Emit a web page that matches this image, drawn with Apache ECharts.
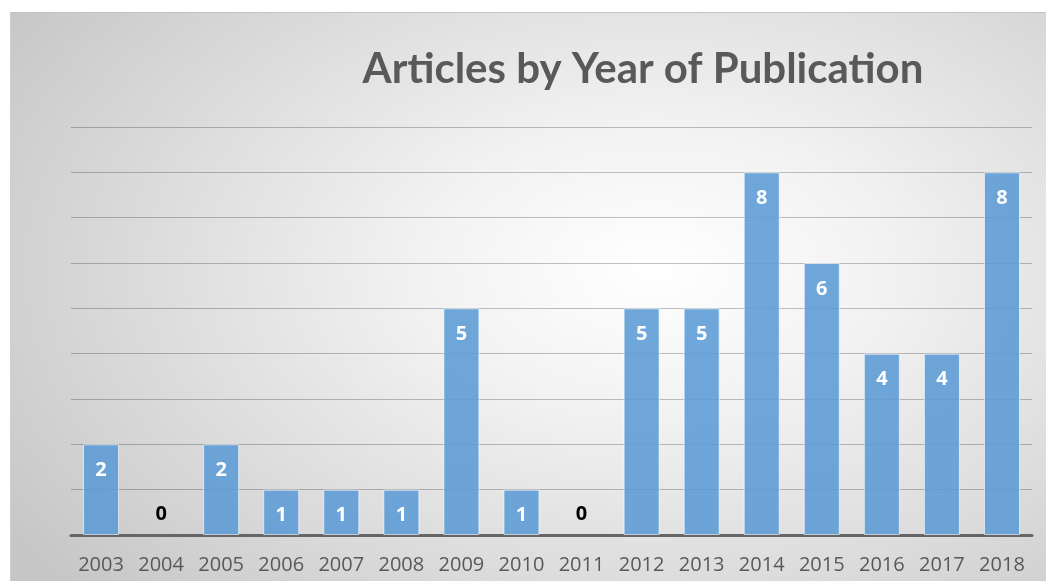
<!DOCTYPE html>
<html>
<head>
<meta charset="utf-8">
<script src="https://cdn.jsdelivr.net/npm/echarts@6/dist/echarts.min.js"></script>
<style>
  html, body { margin: 0; padding: 0; background: #fff; }
  #main {
    position: absolute; left: 10px; top: 12px;
    width: 1036px; height: 569px;
    border-top: 1px solid #c4c4c4; border-left: 1px solid #cfcfcf;
    background: radial-gradient(ellipse 75% 85% at 62% 45%, #ffffff 0%, #f2f2f2 30%, #dcdcdc 65%, #c6c6c6 100%);
  }
</style>
</head>
<body>
<div id="main"></div>
<script>
// years on the x axis
const years = ['2003','2004','2005','2006','2007','2008','2009','2010','2011','2012','2013','2014','2015','2016','2017','2018'];
// number of articles per year
const articles = [2, 0, 2, 1, 1, 1, 5, 1, 0, 5, 5, 8, 6, 4, 4, 8];

var myChart = echarts.init(document.getElementById('main'));

// zero bars: no outline, dark label sitting above the axis
const barData = articles.map(v => {
  if (v === 0) {
    return {
      value: v,
      itemStyle: { borderWidth: 0, color: 'transparent' },
      label: { position: 'top', distance: 11, color: '#000' }
    };
  }
  return v;
});

myChart.setOption({
  backgroundColor: 'transparent',
  animation: false,
  title: {
    text: 'Articles by Year of Publication',
    left: 627, top: 30, textAlign: 'center',
    textStyle: { fontFamily: 'Lato', fontWeight: 'bold', fontSize: 42, color: '#595959' }
  },
  grid: { left: 60, right: 15, top: 114, bottom: 47 },
  xAxis: {
    type: 'category',
    data: years,
    axisTick: { show: false },
    axisLine: { lineStyle: { color: '#666', width: 3 } },
    axisLabel: { fontFamily: 'Open Sans', fontSize: 20, color: '#595959', margin: 20 }
  },
  yAxis: {
    type: 'value', min: 0, max: 9, interval: 1,
    axisLabel: { show: false },
    axisLine: { show: false },
    axisTick: { show: false },
    splitLine: { lineStyle: { color: 'rgba(0,0,0,0.24)', width: 1 } }
  },
  series: [{
    name: 'articles',
    type: 'bar',
    data: barData,
    barWidth: 36,
    itemStyle: { color: 'rgba(91,155,213,0.88)', borderColor: 'rgba(255,255,255,0.6)', borderWidth: 1 },
    label: {
      show: true, position: 'insideTop', distance: 16,
      fontFamily: 'Open Sans', fontWeight: 'bold', fontSize: 20, color: '#fff'
    }
  }]
});
</script>
</body>
</html>
